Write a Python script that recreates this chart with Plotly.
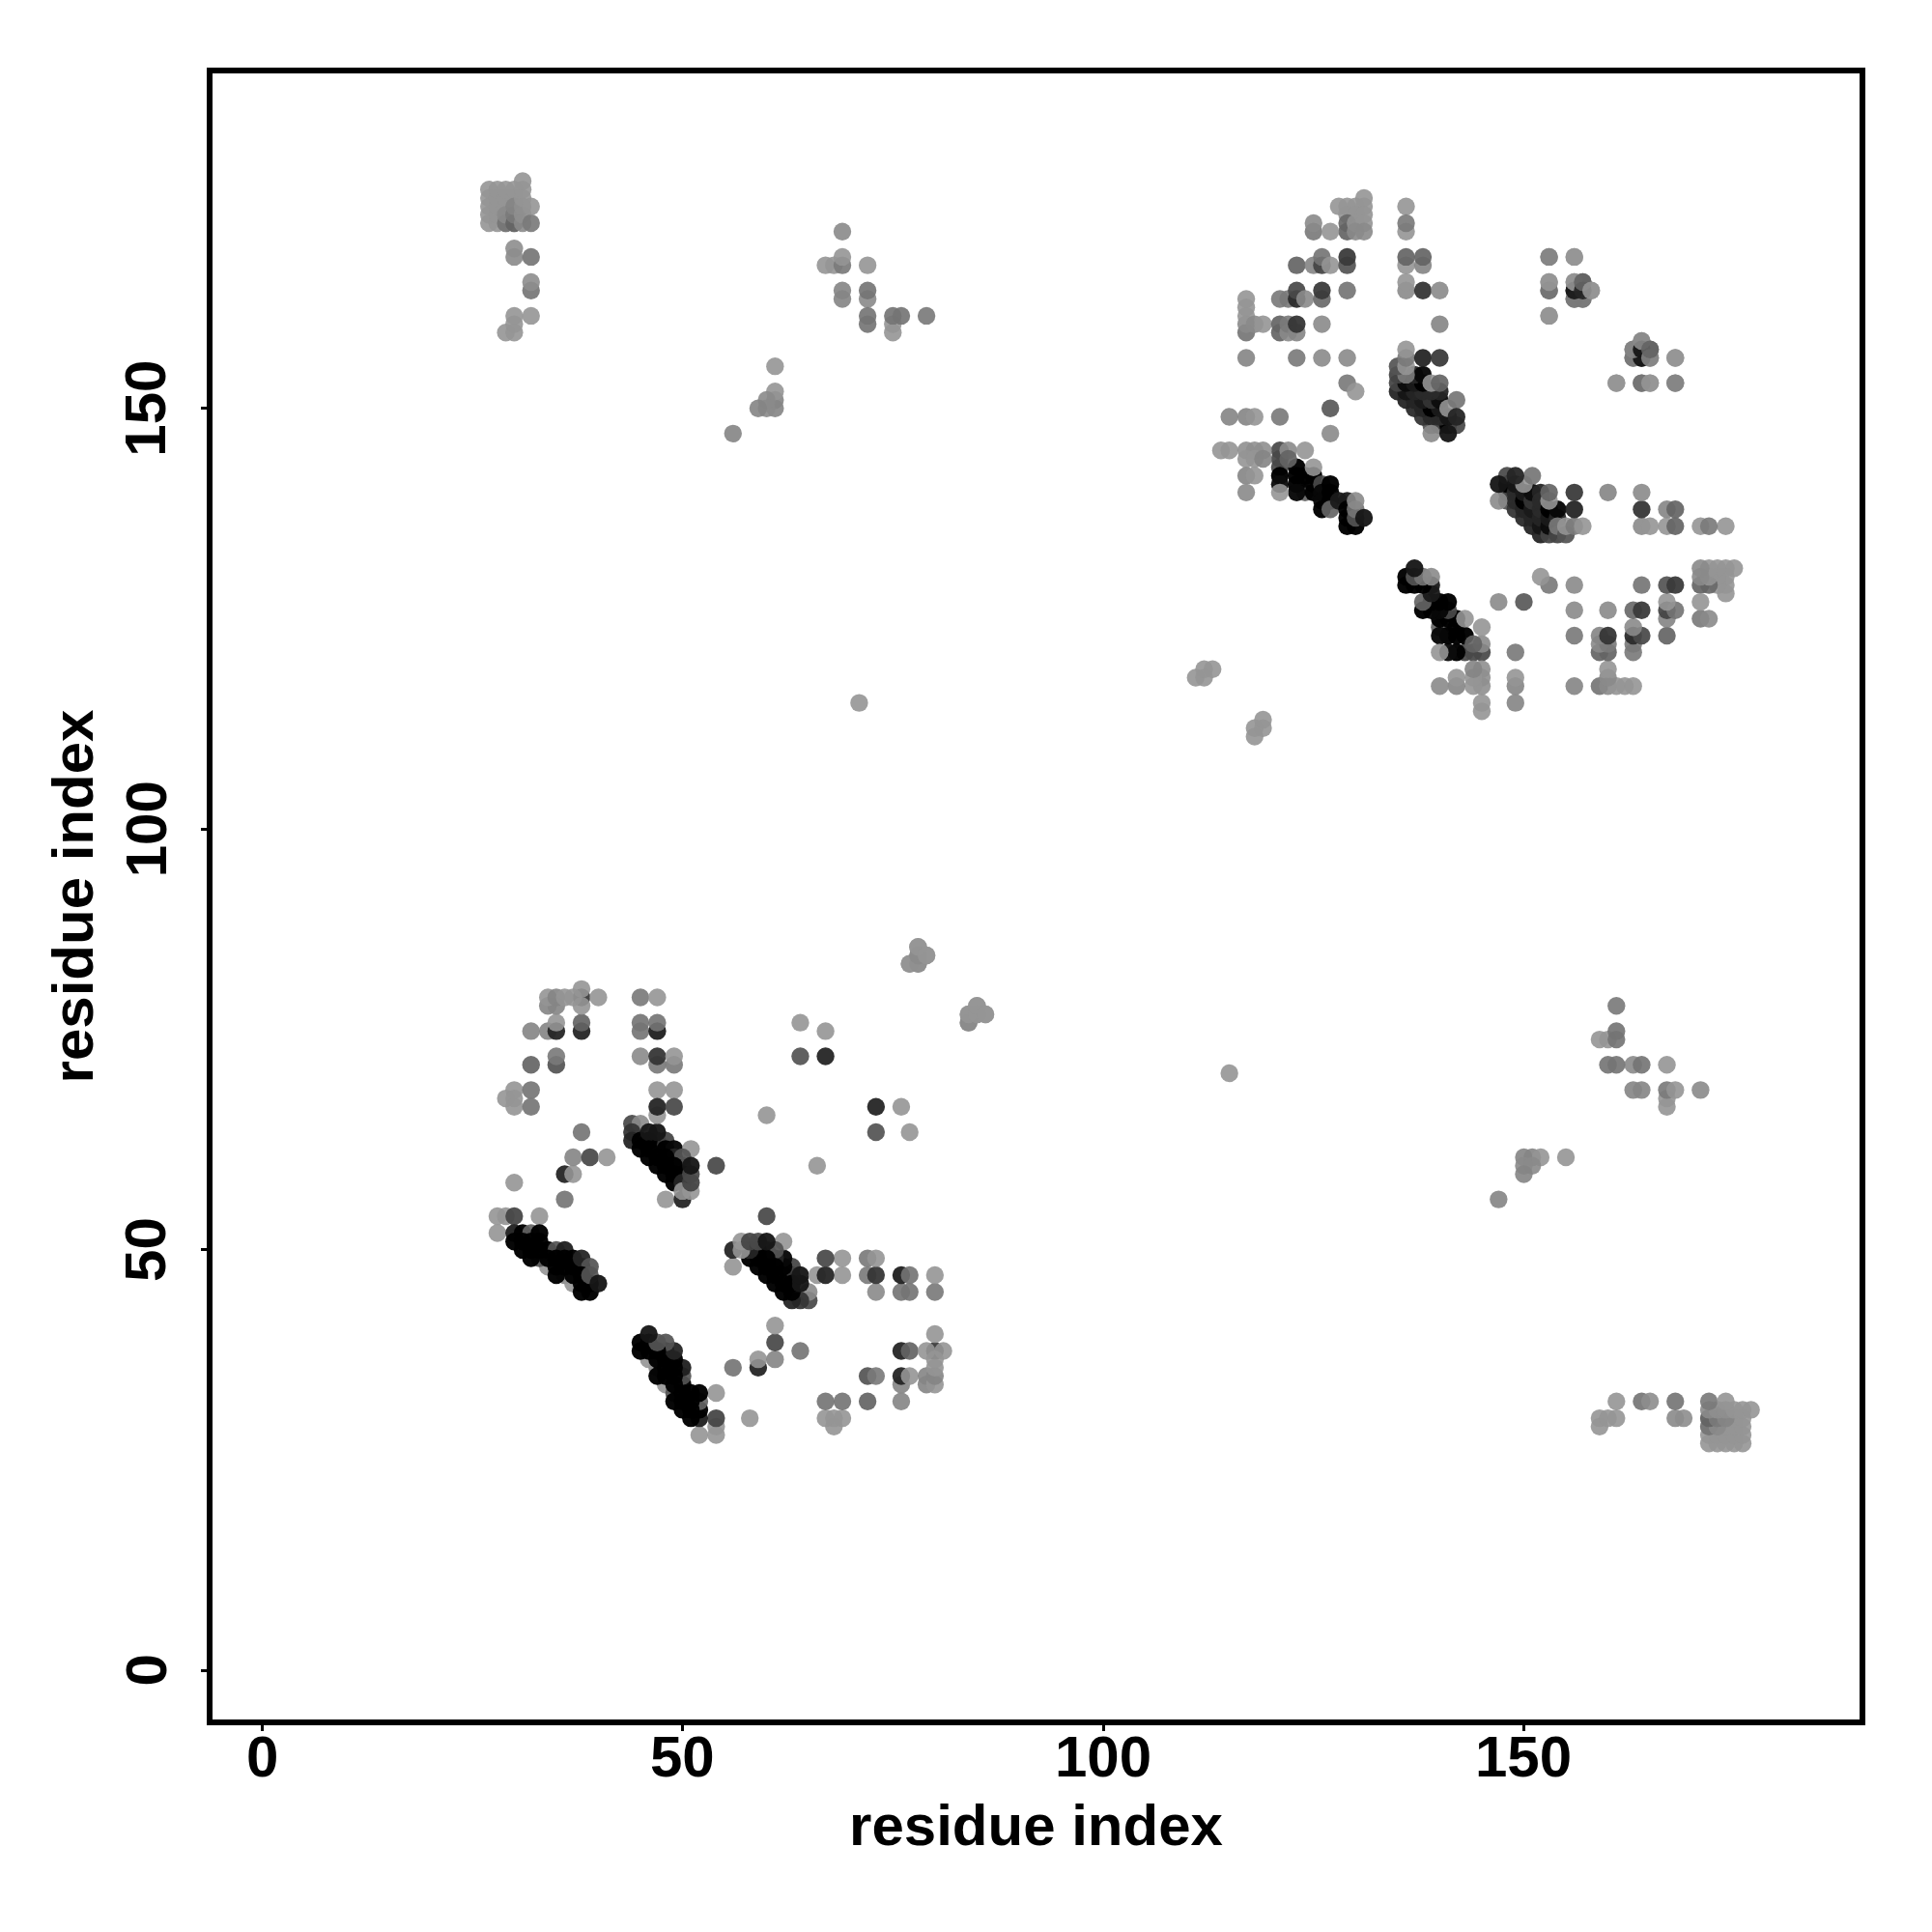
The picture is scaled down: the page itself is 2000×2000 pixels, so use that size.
import plotly.graph_objects as go

# Contacts (residue i, residue j, grey level); the map is symmetric, so i < j is listed.
band_a = [(34,48,0xa0),(36,47,0x90),(37,46,0xa0),(33,49,0x60),(28,54,0xa0),(29,54,0xa0),(30,54,0x50),(33,54,0xa0),(28,52,0xa0),(30,52,0x2a),(31,52,0),(32,52,0x70),(33,52,0),
 (30,51,0),(31,51,0),(32,51,0),(33,51,0),(31,50,0),(32,50,0),(33,50,0),(34,50,0),(35,50,0x60),(36,50,0x2a),
 (32,49,0),(34,49,0),(35,49,0),(36,49,0),(37,49,0),(35,48,0),(36,48,0),(37,48,0),(38,48,0),
 (38,49,0x30),(39,48,0x60),(35,47,0),(37,47,0),(38,47,0),(38,46,0),(39,46,0),(38,45,0),(39,45,0),(39,47,0x60),(40,46,0x20)]
band_b = [(44,65,0x55),(45,65,0x95),(44,64,0x40),(44,63,0x30),(47,63,0x50),(48,63,0x50),(47,62,0x40),(45,63,0),(46,63,0),(46,64,0x20),(47,64,0x20),
 (45,62,0),(46,62,0),(48,62,0),(49,62,0x10),(51,62,0xa0),(49,61,0x30),(50,61,0x60),(46,61,0),(47,61,0),(48,61,0),
 (50,60,0x60),(47,60,0),(48,60,0),(49,60,0),(48,59,0),(49,59,0),(50,59,0),(49,58,0),(50,58,0x30),(48,56,0xa0),(50,56,0x30),
 (50,57,0xa0),(51,57,0xa0),(51,58,0x50),(51,59,0x55),(51,60,0x20),(54,60,0x55)]
cross_low = [(36,59,0x30),(37,59,0xa0),(30,58,0xa0),(36,56,0x80),(37,61,0x90),(39,61,0x55),(41,61,0xa0),(38,64,0x80),
 (30,69,0xa0),(32,69,0x80),(29,68,0xa0),(30,68,0xa0),(30,67,0xa0),(32,67,0x80),(32,72,0x70),(35,72,0x60),(35,73,0x85),
 (32,76,0x90),(34,76,0x90),(35,76,0x30),(38,76,0x30),(35,77,0xa0),(38,77,0x70),(34,79,0x90),(35,79,0x90),(38,80,0x45),(38,79,0xa0),(38,81,0xa0),
 (34,80,0xa0),(35,80,0x90),(36,80,0xa0),(37,80,0xa0),(40,80,0xa0),
 (45,80,0x85),(47,80,0xa0),(45,76,0x80),(47,76,0x2a),(45,77,0x80),(47,77,0x80),(47,72,0x85),(49,72,0x85),(45,73,0x95),(47,73,0x40),(49,73,0xa0),
 (47,69,0xa0),(49,69,0xa0),(47,66,0xa0),(47,67,0x30),(49,67,0x55)]
cross_mid = [(60,66,0xa0),(64,73,0x60),(67,73,0x30),(64,77,0xa0),(67,76,0xa0),(77,84,0xa0),(78,84,0x9a),(78,85,0x95),(78,86,0xa0),(79,85,0xa0),
 (84,77,0x95),(84,78,0xa0),(85,78,0xa0),(85,79,0xa0),(86,78,0xa0),(71,115,0xa0),(111,118,0xa0),(112,118,0xa0),(112,119,0xa0),(113,119,0xa0)]
corner = [(x,y,0xa0) for x in (27,28,29,30) for y in (172,173,174,175,176)] + [(29,172,0x80),(29,173,0x95),(30,172,0x70),(30,173,0x85),(30,174,0x90),
 (31,172,0x95),(31,173,0x9a),(31,174,0x9a),(31,175,0xa0),(31,176,0xa0),(31,177,0xa0),(32,172,0x85),(32,174,0xa0),
 (30,168,0x95),(30,169,0x98),(32,168,0x80),(32,164,0x80),(32,165,0x98),(30,159,0xa0),(29,159,0xa0),(30,160,0xa0),(30,161,0xa0),(32,161,0xa0)]
upper_mid = [(69,171,0x95),(67,167,0xa0),(68,167,0xa0),(69,167,0x85),(69,168,0xa0),(72,167,0xa0),(69,163,0x90),(69,164,0x90),(72,163,0x95),(72,164,0x80),
 (72,160,0x80),(72,161,0x80),(75,159,0xa0),(75,160,0xa0),(75,161,0x80),(76,161,0x80),(79,161,0x85),
 (61,155,0xa0),(61,150,0x90),(61,151,0x90),(61,152,0xa0),(60,150,0x95),(60,151,0x95),(59,150,0x90),(56,147,0x90)]
band_c = [(124,140,0x70),(121,145,0x55),(121,144,0x55),(121,143,0x55),(121,142,0),(121,141,0x15),(123,143,0),(123,142,0),(123,141,0),(123,140,0x10),
 (122,145,0x95),(122,144,0x70),(124,145,0xa0),(124,142,0),(125,142,0),(125,141,0),(125,140,0),(125,143,0xa0),
 (126,141,0x55),(126,140,0x10),(126,139,0x10),(126,138,0),(127,141,0),(127,140,0),(127,139,0),(127,138,0x70),
 (128,139,0x25),(129,139,0x25),(129,138,0),(129,137,0),(129,136,0),(130,136,0),(130,137,0x60),(130,138,0x80),(130,139,0x95),(131,137,0x20)]
band_d = [(139,148,0x60),(140,148,0x50),(141,148,0),(142,148,0x55),(138,149,0x40),(139,149,0x35),(140,149,0x35),(141,149,0x20),
 (137,150,0x35),(138,150,0x30),(139,150,0),(140,150,0x25),(136,151,0x30),(137,151,0x30),(138,151,0x25),(139,151,0x40),(140,151,0x15),(140,152,0x30),
 (135,152,0x30),(136,152,0x20),(137,152,0x30),(138,152,0x35),(139,152,0x35),(135,153,0x50),(136,153,0x15),(137,153,0x25),(138,153,0),(137,154,0x30),(138,154,0x10),
 (135,154,0x50),(136,154,0x85),(135,155,0x60),(136,155,0xa0),(139,147,0x95),(141,147,0x20),(141,150,0xa0),(142,151,0x80),(142,149,0x30),(139,153,0xa0),(140,153,0x70)]
upper_right = [(131,175,0xa0),(128,174,0xa0),(129,174,0xa0),(130,174,0xa0),(131,174,0xa0),(129,173,0xa0),(130,173,0xa0),(131,173,0xa0),
 (129,172,0x75),(129,171,0x70),(130,172,0xa0),(131,172,0xa0),(130,171,0x95),(131,171,0x95),(136,174,0xa0),(125,171,0x85),(125,172,0x95),(127,171,0xa0),
 (136,171,0xa0),(136,172,0x85),(123,167,0x70),(125,167,0x90),(126,167,0x50),(126,168,0x80),(127,167,0xa0),(129,167,0x60),(129,168,0x45),
 (136,167,0xa0),(136,168,0x70),(138,167,0x90),(138,168,0x70),(121,163,0x85),(122,163,0x85),(123,163,0x35),(123,164,0x55),(124,163,0x95),(126,163,0x75),(126,164,0x45),(129,164,0x80),
 (136,164,0x95),(136,165,0xa0),(138,164,0x40),(140,164,0x95),(117,159,0x80),(117,160,0x95),(117,161,0xa0),(117,162,0xa0),(117,163,0xa0),(118,160,0x95),(119,160,0xa0),
 (121,159,0x70),(121,160,0x70),(122,159,0x95),(122,160,0x85),(123,159,0x90),(123,160,0x40),(126,160,0x95),(140,160,0x90),
 (117,156,0x90),(123,156,0x85),(126,156,0x95),(129,156,0x95),(136,156,0x85),(136,157,0xa0),(138,156,0x30),(140,156,0x45),
 (129,153,0x85),(130,152,0xa0),(127,150,0x65),(127,147,0x95),(115,149,0x90),(117,149,0x90),(118,149,0xa0),(121,149,0x85),
 (114,145,0xa0),(115,145,0xa0),(117,145,0x9a),(118,145,0x9a),(119,145,0x9a),(117,144,0xa0),(118,144,0xa0),(119,144,0x90),
 (117,142,0x90),(118,142,0xa0),(117,140,0x95),(121,140,0xa0)]
far_right = [(153,168,0x90),(156,168,0xa0),(153,164,0x80),(153,165,0xa0),(156,163,0x85),(157,163,0x85),(156,164,0x25),(156,165,0xa0),(157,164,0x30),(157,165,0x70),(158,164,0xa0),(153,161,0xa0),
 (163,156,0x85),(164,156,0x20),(163,157,0x90),(164,157,0x20),(164,158,0x95),(165,156,0x90),(165,157,0x70),(168,156,0xa0),(161,153,0xa0),(164,153,0x80),(165,153,0xa0),(168,153,0x90)]

groups = [band_a, band_b, cross_low, cross_mid, corner, upper_mid, band_c, band_d, upper_right, far_right]
axis_ticks = [0, 50, 100, 150]
axis_title = "residue index"

res_i, res_j, grey = [], [], []
for g in groups:
    for a, b, s in g:
        res_i += [a]; res_j += [b]; grey += [s]
# mirrored half first, then the listed half
xs = res_j + res_i
ys = res_i + res_j
shades = grey + grey

def rgba(s):
    a = 0.90 + 0.07 * (1 - s / 160)
    c = max(0, round((s - 255 * (1 - a)) / a))
    return f"rgba({c},{c},{c},{a:.3f})"

colors = [rgba(s) for s in shades]

fig = go.Figure(go.Scatter(x=xs, y=ys, mode="markers", marker=dict(size=18.4, color=colors, line=dict(width=0))))

FONT = dict(family="Liberation Sans", size=60, color="black", weight="bold")
W, H = 2000, 2000
axis = dict(showgrid=False, zeroline=False, showline=True, mirror=True, linecolor="black", linewidth=6,
            ticks="outside", ticklen=6, tickwidth=3, tickcolor="black", showticklabels=False,
            tickvals=axis_ticks, automargin=False)

tick_labels = []
for t in axis_ticks:
    tick_labels.append(dict(text=str(t), x=t, xref="x", y=0, yref="paper", yshift=-38, xanchor="center", yanchor="middle",
                            showarrow=False, font=FONT))
    tick_labels.append(dict(text=str(t), x=0, xref="paper", y=t, yref="y", xshift=-69, xanchor="center", yanchor="middle",
                            textangle=-90, showarrow=False, font=FONT))

fig.update_layout(width=W, height=H, autosize=False, showlegend=False,
    paper_bgcolor="white", plot_bgcolor="white",
    margin=dict(l=212, r=W-1917, t=68, b=H-1772, pad=0),
    annotations=tick_labels,
    xaxis=dict(axis, range=[-5.86, 189.9], title=dict(text=axis_title, font=FONT, standoff=79)),
    yaxis=dict(axis, range=[-5.8, 189.8], title=dict(text=axis_title, font=FONT, standoff=94)))
fig.write_html("out.html")
